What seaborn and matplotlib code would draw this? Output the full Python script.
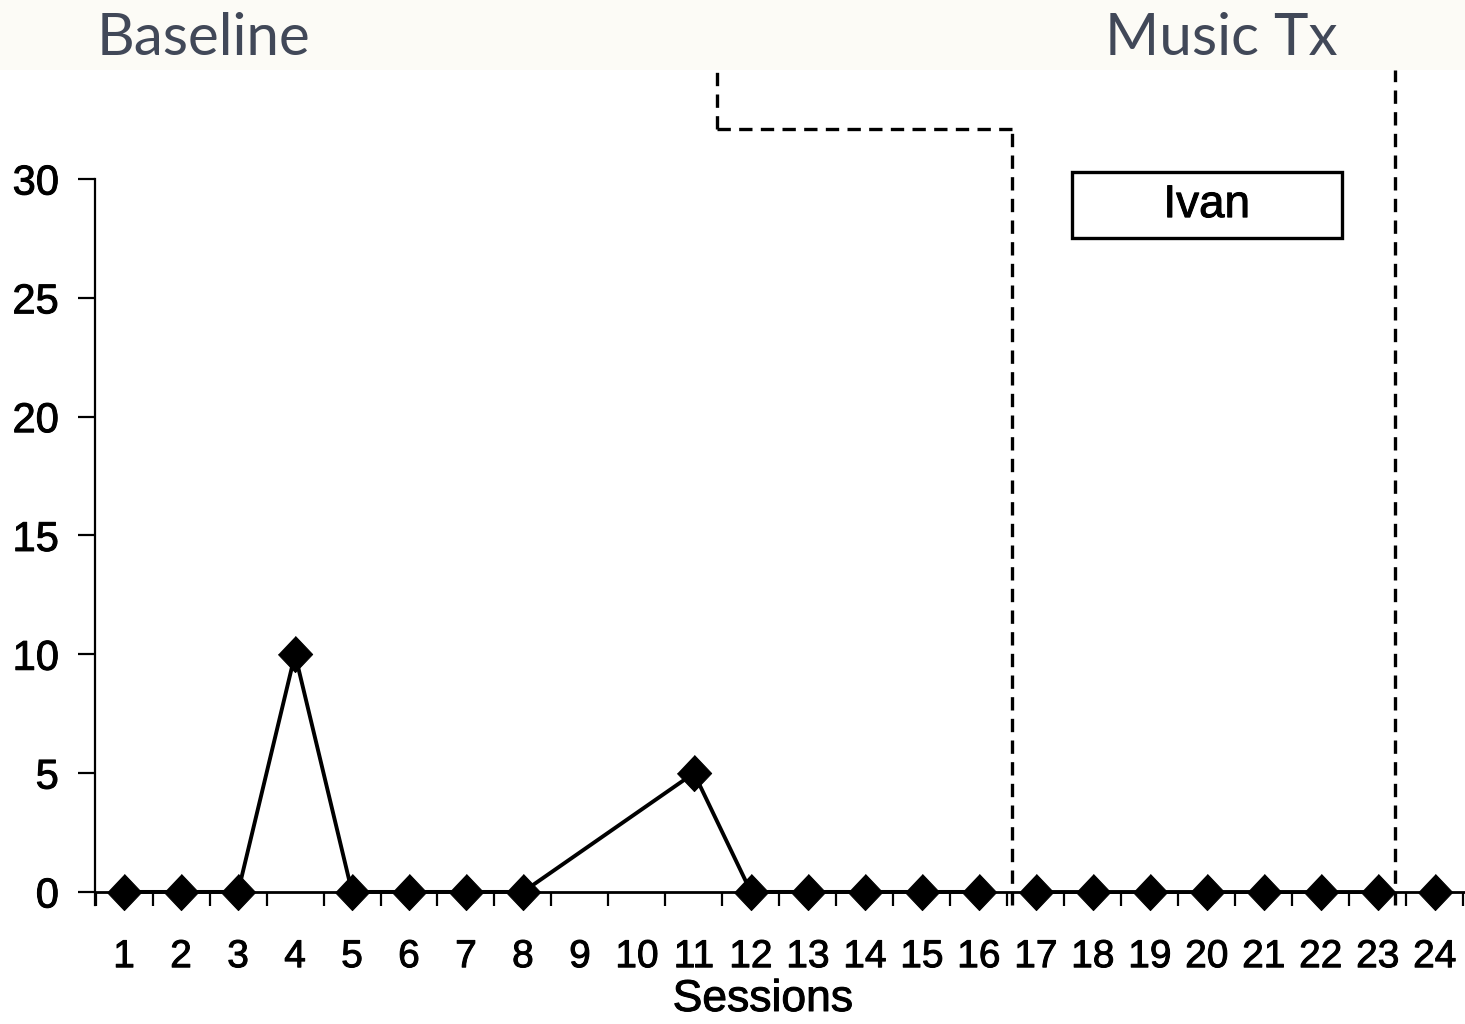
import matplotlib
matplotlib.use("Agg")
import matplotlib.pyplot as plt
from matplotlib.patches import Rectangle
import matplotlib.patheffects as pe
import seaborn as sns
import pandas as pd
import numpy as np

# ---- data ----
sessions = [1, 2, 3, 4, 5, 6, 7, 8, 11, 12, 13, 14, 15, 16,
            17, 18, 19, 20, 21, 22, 23, 24]
values = [0, 0, 0, 10, 0, 0, 0, 0, 5, 0, 0, 0, 0, 0,
          0, 0, 0, 0, 0, 0, 0, 0]
segments = ["A"] * 14 + ["B"] * 7 + ["C"]
tick_labels = [str(i) for i in range(1, 25)]
y_ticks = [0, 5, 10, 15, 20, 25, 30]
phase_titles = ["Baseline", "Music Tx"]
panel_name = "Ivan"
x_label = "Sessions"

df = pd.DataFrame({"session": sessions, "value": values, "segment": segments})

sns.set_theme(style="white")
plt.rcParams["font.family"] = ["Liberation Sans", "DejaVu Sans"]

thick = [pe.withStroke(linewidth=0.7, foreground="black")]

W, H = 1465, 1024
fig = plt.figure(figsize=(W / 100, H / 100), dpi=100)
fig.patch.set_facecolor("white")

# banner
fig.patches.append(Rectangle((0, 1 - 70 / H), 1, 70 / H, transform=fig.transFigure,
                             facecolor="#FCFBF6", edgecolor="none", zorder=0))
fig.text(97 / W, 1 - 55 / H, phase_titles[0], fontsize=42, color="#414858",
         family=["Lato", "DejaVu Sans"], ha="left", va="baseline")
fig.text(1105 / W, 1 - 55 / H, phase_titles[1], fontsize=42, color="#414858",
         family=["Lato", "DejaVu Sans"], ha="left", va="baseline")

left, right = 95 / W, 1.0
bottom, top = 1 - 905 / H, 1 - 179 / H
ax = fig.add_axes([left, bottom, right - left, top - bottom])
ax.set_facecolor("none")

diamond = [(0, 1), (0.95, 0), (0, -1), (-0.95, 0)]
sns.lineplot(data=df, x="session", y="value", units="segment", estimator=None,
             color="black", lw=2.8, marker=diamond, markersize=26,
             markeredgecolor="black", markerfacecolor="black", ax=ax, zorder=5,
             clip_on=False)

ax.set_xlim(0.49, 24.53)
ax.set_ylim(-0.55, 30)

for s in ["top", "right"]:
    ax.spines[s].set_visible(False)
ax.spines["bottom"].set_position(("data", 0))
ax.spines["bottom"].set_color("black")
ax.spines["left"].set_color("black")
ax.spines["bottom"].set_linewidth(2.0)
ax.spines["left"].set_linewidth(1.6)

ax.set_xticks(range(1, 25))
ax.set_xticklabels(tick_labels, family=["Liberation Sans Narrow", "Liberation Sans"])
ax.set_xticks(np.arange(0.5, 25, 1.0), minor=True)
ax.tick_params(axis="x", which="major", length=0, pad=34, labelsize=28,
               labelcolor="black")
ax.tick_params(axis="x", which="minor", length=10, width=1.6, color="black",
               direction="out", bottom=True)
ax.set_yticks(y_ticks)
ax.tick_params(axis="y", which="major", length=12, width=1.6, color="black",
               direction="out", left=True, pad=14, labelsize=30, labelcolor="black")
for lab in ax.get_xticklabels() + ax.get_yticklabels():
    lab.set_path_effects(thick)

ax.set_xlabel(x_label, fontsize=32, color="black", path_effects=thick)
ax.xaxis.set_label_coords((763 - 95) / 1370, -(979 - 905) / (905 - 179))
ax.set_ylabel("")
ax.grid(False)

# phase change lines (dashed)
dash = dict(color="black", lw=2.4, ls=(0, (4, 2.5)), clip_on=False, zorder=3)
ax.plot([16.58, 16.58], [-0.55, 32.1], **dash)
ax.plot([11.4, 16.58], [32.1, 32.1], **dash)
ax.plot([11.4, 11.4], [32.1, 34.6], **dash)
ax.plot([23.3, 23.3], [-0.55, 34.6], **dash)

# panel label box
bx0, bx1 = 1 + (1072 - 124) / 57, 1 + (1342 - 124) / 57
by0, by1 = (892 - 238) / 23.77, (892 - 172) / 23.77
ax.add_patch(Rectangle((bx0, by0), bx1 - bx0, by1 - by0, facecolor="white",
                       edgecolor="black", lw=2.4, zorder=4, clip_on=False))
ax.text((bx0 + bx1) / 2, (by0 + by1) / 2, panel_name, fontsize=33,
        ha="center", va="center", color="black", zorder=5, path_effects=thick)

fig.savefig("out.png", dpi=100, facecolor=fig.get_facecolor())
